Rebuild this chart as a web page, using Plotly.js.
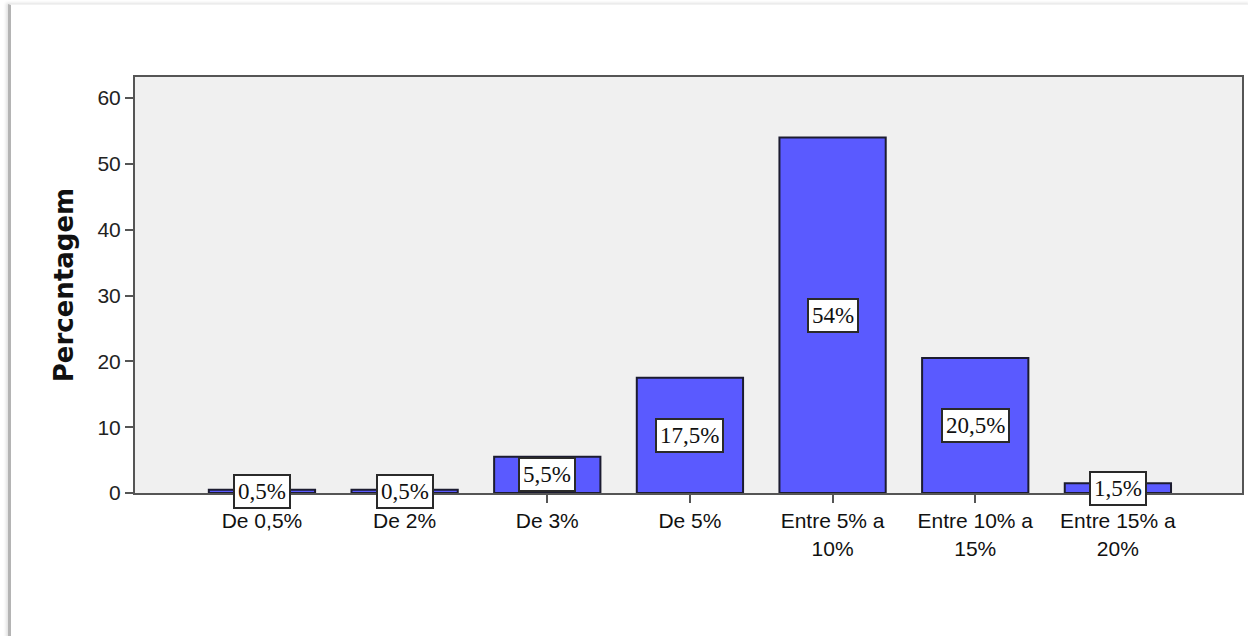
<!DOCTYPE html>
<html>
<head>
<meta charset="utf-8">
<script src="https://cdn.plot.ly/plotly-3.0.1.min.js"></script>
<style>
  html, body { margin: 0; padding: 0; background: #ffffff; }
  #frame {
    position: absolute; left: 0; top: 0; width: 1248px; height: 636px; overflow: hidden;
  }
  #edge {
    position: absolute; left: 8px; top: 4px; width: 1240px; height: 640px;
    border-left: 3px solid #b4b4b4; border-top: 1px solid #f2f2f2;
    box-shadow: -2px -1px 3px rgba(0,0,0,0.12);
  }
  #chart { position: absolute; left: 0; top: 0; width: 1248px; height: 636px; }
</style>
</head>
<body>
<div id="frame">
  <div id="edge"></div>
  <div id="chart"></div>
</div>
<script>
// Distribuição percentual por faixa
const categories = ['De 0,5%', 'De 2%', 'De 3%', 'De 5%', 'Entre 5% a<br>10%', 'Entre 10% a<br>15%', 'Entre 15% a<br>20%'];
const percentages = [0.5, 0.5, 5.5, 17.5, 54, 20.5, 1.5];
const valueLabels = ['0,5%', '0,5%', '5,5%', '17,5%', '54%', '20,5%', '1,5%'];
const yTicks = [0, 10, 20, 30, 40, 50, 60];

const xIdx = categories.map((_, i) => i);
const sans = 'Liberation Sans, Arial, sans-serif';

const trace = {
  type: 'bar',
  x: xIdx,
  y: percentages,
  width: 0.745,
  marker: { color: '#5a5aff', line: { color: '#1c1c30', width: 2 } },
  hoverinfo: 'skip'
};

// value labels sit in the middle of each bar
const annotations = percentages.map((v, i) => ({
  x: i, y: v / 2, xref: 'x', yref: 'y',
  text: valueLabels[i], showarrow: false,
  font: { family: 'Liberation Serif, Times New Roman, serif', size: 23, color: '#111' },
  bgcolor: '#ffffff', bordercolor: '#2a2a2a', borderwidth: 2, borderpad: 3
}));

const layout = {
  width: 1248, height: 636,
  margin: { l: 135, r: 6, t: 77, b: 143 },
  paper_bgcolor: 'rgba(0,0,0,0)',
  plot_bgcolor: '#f0f0f0',
  showlegend: false,
  xaxis: {
    range: [-0.89, 6.87],
    tickvals: xIdx, ticktext: categories,
    ticks: 'outside', ticklen: 8, tickwidth: 2, tickcolor: '#555',
    showline: true, linecolor: '#555', linewidth: 2, mirror: true,
    showgrid: false, zeroline: false,
    tickfont: { family: sans, size: 21, color: '#111' }
  },
  yaxis: {
    range: [0, 63.2],
    tickvals: yTicks,
    ticks: 'outside', ticklen: 8, tickwidth: 2, tickcolor: '#555',
    showline: true, linecolor: '#555', linewidth: 2, mirror: true,
    showgrid: false, zeroline: false,
    tickfont: { family: sans, size: 21, color: '#222' },
    title: { text: 'Percentagem', standoff: 16,
             font: { family: 'DejaVu Sans, sans-serif', size: 26, color: '#111', weight: 'bold' } }
  },
  annotations: annotations
};

Plotly.newPlot('chart', [trace], layout, { displayModeBar: false, staticPlot: true });
</script>
</body>
</html>
